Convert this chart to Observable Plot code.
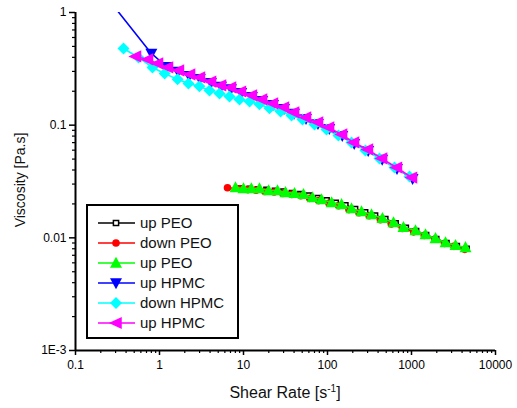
<!DOCTYPE html>
<html><head><meta charset="utf-8">
<script src="https://cdn.jsdelivr.net/npm/d3@7"></script>
<script src="https://cdn.jsdelivr.net/npm/@observablehq/plot@0.6"></script>
<style>body{margin:0;background:#fff} #chart{width:517px;height:408px}</style>
</head><body><div id="chart"></div>
<script>
// ---- data ----
const blackX = [9.2,11.8,14.8,18.7,23.6,29.8,37.5,47.3,60,76.5,98,126,164,214,282,370,490,650,860,1140,1500,1980,2620,3480,4550];
const blackY = [0.0276,0.0273,0.0271,0.0268,0.0262,0.0258,0.0251,0.0245,0.0238,0.0226,0.0216,0.0205,0.0195,0.0181,0.0169,0.0158,0.0147,0.0135,0.0123,0.0115,0.0106,0.0098,0.0090,0.0085,0.0080];
const redX = [6.45,9.0,11.3,14.1,18.0,23.2,29.5,37.6,48.1,61.4,78.4,104,136,180,237,313,426,575,780,1060,1420,1900,2480,3200,4300];
const redY = [0.0278,0.0272,0.0268,0.0265,0.0258,0.0255,0.0248,0.0243,0.0236,0.0224,0.0214,0.0203,0.0193,0.0178,0.0167,0.0157,0.0145,0.0133,0.0121,0.0113,0.0105,0.0097,0.0089,0.0084,0.0079];
const greenX = [8.03,10,12.4,15.5,19.9,25.4,31.6,40.5,51.8,66.3,84.9,112,147,193,254,334,451,611,803,1116,1468,1931,2541,3342,4397];
const greenY = [0.0280,0.0274,0.0274,0.0274,0.0263,0.0263,0.0253,0.0248,0.0243,0.0228,0.0219,0.0206,0.0198,0.0182,0.0171,0.0161,0.0149,0.0137,0.0124,0.0116,0.0107,0.00988,0.00910,0.00857,0.00822];
const blueX = [0.275,0.80,1.22,1.66,2.25,3.02,4.1,5.4,7.1,9.4,12.6,16.7,22.5,30.4,40,55.5,77,105,150,208,305,448,672,1030];
const blueY = [1.18,0.433,0.330,0.300,0.275,0.259,0.238,0.220,0.210,0.194,0.179,0.165,0.152,0.140,0.127,0.114,0.103,0.0930,0.0806,0.0685,0.0594,0.0495,0.0410,0.0335];
const cyanX = [0.373,0.562,0.826,1.15,1.64,2.21,2.99,3.94,5.18,6.81,8.96,11.8,15.5,20.4,27.6,37.3,50.4,70,97.3,135,193,283,416,628,946];
const cyanY = [0.479,0.399,0.325,0.288,0.255,0.234,0.221,0.203,0.191,0.180,0.169,0.162,0.153,0.141,0.132,0.122,0.112,0.1014,0.0916,0.0811,0.0703,0.0596,0.0507,0.0421,0.0351];
const magentaX = [0.518,0.72,0.946,1.245,1.68,2.28,2.99,4.05,5.32,7.0,9.2,12.4,16.4,22.1,29.9,39.4,54.7,76,103,147,204,299,440,662,1000];
const magentaY = [0.407,0.383,0.353,0.325,0.306,0.282,0.265,0.244,0.225,0.216,0.199,0.184,0.169,0.156,0.144,0.130,0.117,0.106,0.0955,0.0827,0.0703,0.0609,0.0507,0.0421,0.0343];

const seriesNames = ["up PEO","down PEO","up PEO","up HPMC","down HPMC","up HPMC"];
const xTicks = [0.1,1,10,100,1000,10000];
const xTickLabels = ["0.1","1","10","100","1000","10000"];
const yTicks = [0.001,0.01,0.1,1];
const yTickLabels = ["1E-3","0.01","0.1","1"];

// ---- symbols ----
const rr = s => Math.sqrt(s / Math.PI);
const symSquare = {draw(c, s){const r = rr(s); c.moveTo(-r,-r); c.lineTo(r,-r); c.lineTo(r,r); c.lineTo(-r,r); c.closePath();}};
const symCircle = {draw(c, s){const r = rr(s); c.moveTo(r,0); c.arc(0,0,r,0,2*Math.PI);}};
const symTriUp = {draw(c, s){const r = rr(s); c.moveTo(0,-r); c.lineTo(0.95*r,0.75*r); c.lineTo(-0.95*r,0.75*r); c.closePath();}};
const symTriDown = {draw(c, s){const r = rr(s); c.moveTo(0,r); c.lineTo(0.95*r,-0.75*r); c.lineTo(-0.95*r,-0.75*r); c.closePath();}};
const symDiamond = {draw(c, s){const r = rr(s); c.moveTo(0,-r); c.lineTo(r,0); c.lineTo(0,r); c.lineTo(-r,0); c.closePath();}};
const symTriLeft = {draw(c, s){const r = rr(s); c.moveTo(-r,0); c.lineTo(0.8*r,-0.85*r); c.lineTo(0.8*r,0.85*r); c.closePath();}};

const series = [
  {name: seriesNames[0], color: "#000000", xs: blackX, ys: blackY, symbol: symSquare, r: 2.4, fill: "#ffffff", stroke: "#000000", sw: 1.5, lr: 2.6},
  {name: seriesNames[1], color: "#ff0000", xs: redX, ys: redY, symbol: symCircle, r: 3.8, fill: "#ff0000", stroke: "none", sw: 0, lr: 3.8},
  {name: seriesNames[2], color: "#00ff00", xs: greenX, ys: greenY, symbol: symTriUp, r: 6.3, fill: "#00ff00", stroke: "none", sw: 0, lr: 6.3},
  {name: seriesNames[3], color: "#0000ff", xs: blueX, ys: blueY, symbol: symTriDown, r: 6.3, fill: "#0000ff", stroke: "none", sw: 0, lr: 6.3},
  {name: seriesNames[4], color: "#00ffff", xs: cyanX, ys: cyanY, symbol: symDiamond, r: 6.0, fill: "#00ffff", stroke: "none", sw: 0, lr: 6.0},
  {name: seriesNames[5], color: "#ff00ff", xs: magentaX, ys: magentaY, symbol: symTriLeft, r: 7.2, fill: "#ff00ff", stroke: "none", sw: 0, lr: 7.2}
];

const minor = (lo, hi) => { const out = []; for (let d = lo; d < hi; d *= 10) for (let k = 2; k <= 9; k++) out.push(d * k); return out; };
const xMinor = minor(0.1, 10000);
const yMinor = minor(0.001, 1);

const marks = [];
for (const s of series) {
  const data = s.xs.map((x, i) => ({x, y: s.ys[i]}));
  marks.push(Plot.line(data, {x: "x", y: "y", stroke: s.color, strokeWidth: 1.6, clip: true}));
  marks.push(Plot.dot(data, {x: "x", y: "y", symbol: s.symbol, r: s.r, fill: s.fill, stroke: s.stroke, strokeWidth: s.sw, clip: true}));
}

const fmtX = d => xTickLabels[xTicks.indexOf(d)];
const fmtY = d => yTickLabels[yTicks.indexOf(d)];

const chart = Plot.plot({
  width: 517, height: 408,
  marginLeft: 75, marginRight: 22, marginTop: 12, marginBottom: 58,
  style: {fontFamily: "'Liberation Sans', Arial, sans-serif", color: "#000", background: "#fff"},
  x: {type: "log", domain: [0.1, 10000], label: null},
  y: {type: "log", domain: [0.001, 1], label: null},
  marks: [
    ...marks,
    Plot.axisX(xMinor, {tickSize: 3, tickFormat: () => "", label: null, strokeWidth: 1.2}),
    Plot.axisX(xTicks, {tickSize: 5, tickFormat: fmtX, label: null, fontSize: 12, tickPadding: 5, strokeWidth: 1.5}),
    Plot.axisY(yMinor, {tickSize: 3, tickFormat: () => "", label: null, strokeWidth: 1.2}),
    Plot.axisY(yTicks, {tickSize: 6, tickFormat: fmtY, label: null, fontSize: 12, tickPadding: 3, strokeWidth: 1.5}),
    Plot.ruleX([0.1], {y1: 0.001, y2: 1, stroke: "#000", strokeWidth: 2}),
    Plot.ruleY([0.001], {x1: 0.1, x2: 10000, stroke: "#000", strokeWidth: 2})
  ]
});
document.getElementById("chart").appendChild(chart);

// ---- axis titles and legend ----
const FONT = "'Liberation Sans', Arial, sans-serif";
const svg = d3.select(chart);
const xl = svg.append("text").attr("x", 285).attr("y", 398).attr("text-anchor", "middle")
  .attr("font-size", 16).attr("fill", "#111").attr("font-family", FONT);
xl.append("tspan").text("Shear Rate [s");
xl.append("tspan").attr("dy", -6).attr("font-size", 10).text("-1");
xl.append("tspan").attr("dy", 6).text("]");
svg.append("text").attr("transform", "translate(25,180) rotate(-90)").attr("text-anchor", "middle")
  .attr("font-size", 14).attr("fill", "#111").attr("font-family", FONT)
  .text("Viscosity [Pa.s]");

const lg = svg.append("g").attr("font-family", FONT).attr("text-anchor", "start");
lg.append("rect").attr("x", 87).attr("y", 205).attr("width", 151).attr("height", 133)
  .attr("fill", "#fff").attr("stroke", "#000").attr("stroke-width", 2);
series.forEach((s, i) => {
  const y = 223 + i * 20;
  lg.append("line").attr("x1", 98).attr("x2", 135).attr("y1", y).attr("y2", y).attr("stroke", s.color).attr("stroke-width", 1.6);
  lg.append("path").attr("d", d3.symbol(s.symbol, Math.PI * s.lr * s.lr)())
    .attr("transform", `translate(116,${y})`).attr("fill", s.fill).attr("stroke", s.stroke).attr("stroke-width", s.sw);
  lg.append("text").attr("x", 140).attr("y", y).attr("dy", "0.35em").attr("text-anchor", "start")
    .attr("font-size", 15).attr("fill", "#111").text(s.name);
});
</script>
</body></html>
